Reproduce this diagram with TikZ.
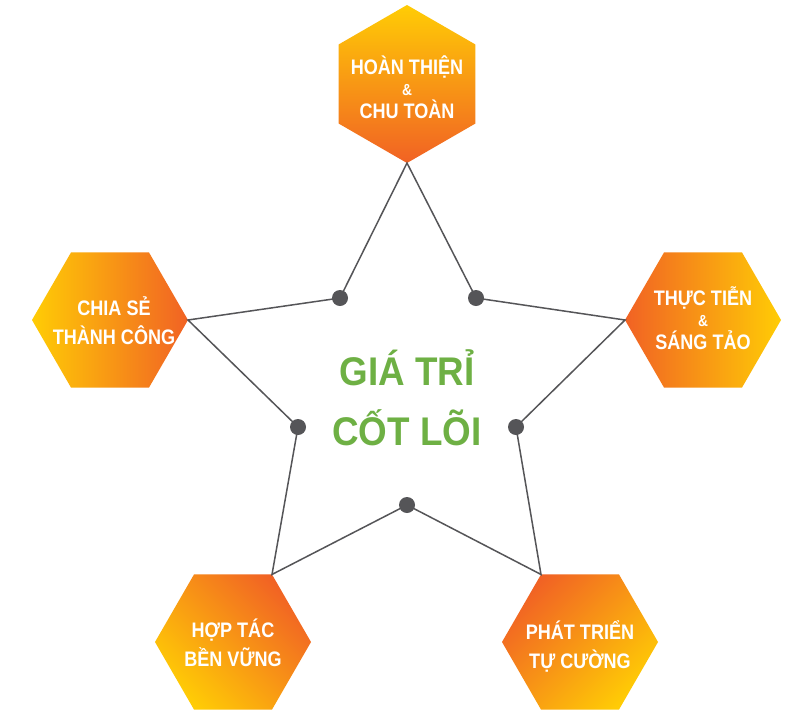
\documentclass[tikz,border=0pt]{standalone}
\usepackage{fontspec}
\setmainfont{Liberation Sans}
\newfontfamily\hexfont[FakeStretch=0.86]{Liberation Sans}
\newfontfamily\corefont[FakeStretch=0.92]{Liberation Sans}
\usetikzlibrary{shapes.geometric}
\begin{document}
\begin{tikzpicture}[x=1pt,y=-1pt,
    hexa/.style={shape=regular polygon,regular polygon sides=6,minimum size=156pt,inner sep=0pt,outer sep=0pt,
      top color=hexyellow,middle color=hexmid,bottom color=hexorange},
    hextext/.style={text=white,align=center,inner sep=0pt,font=\hexfont\bfseries\fontsize{21}{29}\selectfont},
    dot/.style={shape=circle,fill=linegray,inner sep=0pt,minimum size=16pt},
    link/.style={draw=linegray,line width=1.5pt}]
    \definecolor{hexyellow}{RGB}{255,204,5}
    \definecolor{hexmid}{RGB}{249,165,27}
    \definecolor{hexorange}{RGB}{241,98,36}
    \definecolor{linegray}{RGB}{85,85,88}
    \definecolor{coregreen}{RGB}{110,176,68}
    \fill[white] (0,0) rectangle (794,710);
    \useasboundingbox (0,0) rectangle (794,710);
    \node[hexa,minimum size=158pt,shape border rotate=30,shading angle=0] (hoanthien) at (407,84) {};
    \node[hexa,shading angle=-90] (thuctien) at (703,320) {};
    \node[hexa,shading angle=90] (chiase) at (110,320) {};
    \node[hexa,shading angle=135] (hoptac) at (233,642) {};
    \node[hexa,shading angle=-135] (phattrien) at (580,642) {};
    \node[hextext] at ([yshift=-3pt]hoanthien.center) {HOÀN THIỆN\\[-8pt]{\fontsize{16}{18}\selectfont\&}\\[-6pt]CHU TOÀN};
    \node[hextext] at ([yshift=2pt]thuctien.center) {THỰC TIỄN\\[-8pt]{\fontsize{16}{18}\selectfont\&}\\[-6pt]SÁNG TẢO};
    \node[hextext] at ([xshift=4pt,yshift=-1pt]chiase.center) {CHIA SẺ\\THÀNH CÔNG};
    \node[hextext] at ([yshift=-1pt]hoptac.center) {HỢP TÁC\\BỀN VỮNG};
    \node[hextext] at ([yshift=-4pt]phattrien.center) {PHÁT TRIỂN\\TỰ CƯỜNG};
    \node[dot] (d1) at (340,298) {};
    \node[dot] (d2) at (476,298) {};
    \node[dot] (d3) at (516,427) {};
    \node[dot] (d4) at (407,505) {};
    \node[dot] (d5) at (298,427) {};
    \draw[link] (d1.center) -- (hoanthien.270) -- (d2.center);
    \draw[link] (d2.center) -- (thuctien.180) -- (d3.center);
    \draw[link] (d3.center) -- (phattrien.120) -- (d4.center);
    \draw[link] (d4.center) -- (hoptac.60) -- (d5.center);
    \draw[link] (d5.center) -- (chiase.0) -- (d1.center);
    \node[text=coregreen,align=center,font=\corefont\bfseries\fontsize{40}{60}\selectfont] (core) at (407,398) {GIÁ TRỈ\\CỐT LÕI};
\end{tikzpicture}
\end{document}
